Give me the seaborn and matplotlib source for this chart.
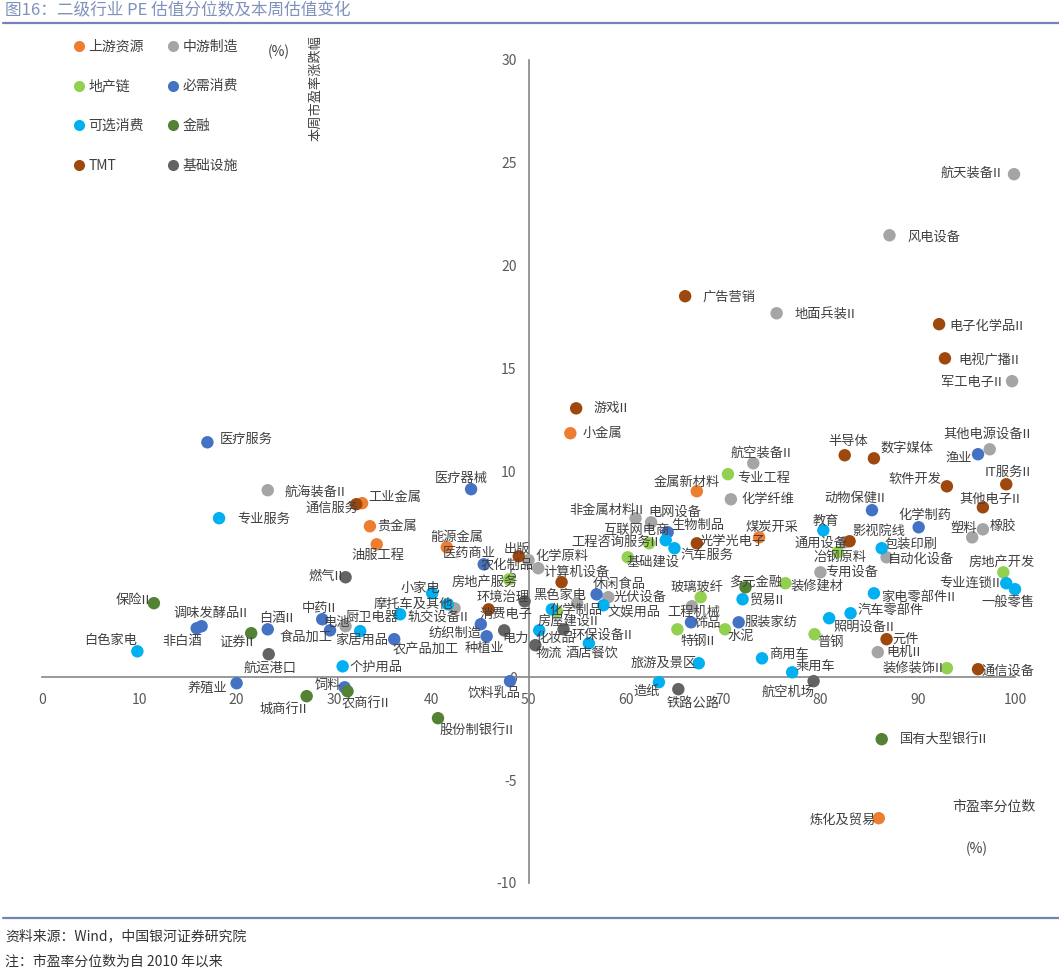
import pandas as pd
import matplotlib.pyplot as plt
import seaborn as sns
from matplotlib.lines import Line2D

# 数据：市盈率分位数 (x, %) 与 本周市盈率涨跌幅 (y, %)
up_names = ["小金属", "金属新材料", "工业金属", "贵金属", "油服工程", "能源金属", "煤炭开采", "炼化及贸易"]
up_pct = [54.3, 67.3, 32.9, 33.7, 34.4, 41.6, 73.7, 86.0]
up_chg = [11.86, 9.04, 8.46, 7.34, 6.46, 6.32, 6.80, -6.85]

mid_names = ["航天装备II", "风电设备", "地面兵装II", "军工电子II", "航空装备II", "其他电源设备II",
             "化学纤维", "航海装备II", "非金属材料II", "电网设备", "塑料", "橡胶", "通用设备",
             "化学原料", "农化制品", "自动化设备", "专用设备", "光伏设备", "化学制品", "工程机械",
             "电池", "轨交设备II", "电机II"]
mid_pct = [99.9, 87.1, 75.5, 99.7, 73.1, 97.4, 70.8, 23.2, 61.0, 62.6, 95.6, 96.7, 82.5,
           51.0, 50.0, 86.8, 80.0, 58.2, 55.0, 66.8, 31.2, 42.4, 85.9]
mid_chg = [24.45, 21.48, 17.69, 14.39, 10.40, 11.08, 8.65, 9.09, 7.73, 7.53, 6.80, 7.19, 6.56,
           5.30, 5.69, 5.83, 5.10, 3.89, 3.60, 3.45, 2.48, 3.35, 1.22]

prop_names = ["专业工程", "工程咨询服务II", "基础建设", "冶钢原料", "房地产开发", "房地产服务",
              "玻璃玻纤", "装修建材", "房屋建设II", "特钢II", "水泥", "普钢", "装修装饰II"]
prop_pct = [70.5, 62.4, 60.2, 81.8, 98.8, 48.0, 67.7, 76.4, 52.9, 65.3, 70.2, 79.4, 93.0]
prop_chg = [9.87, 6.51, 5.83, 6.08, 5.10, 4.76, 3.89, 4.57, 3.21, 2.33, 2.33, 2.09, 0.44]

stap_names = ["医疗服务", "医疗器械", "动物保健II", "化学制药", "渔业", "生物制品", "医药商业",
              "休闲食品", "调味发酵品II", "非白酒", "白酒II", "中药II", "食品加工", "纺织制造",
              "种植业", "农产品加工", "服装家纺", "饰品", "养殖业", "饲料", "饮料乳品"]
stap_pct = [17.0, 44.1, 85.3, 90.1, 96.2, 64.3, 45.4, 57.0, 16.4, 15.9, 23.2, 28.8, 29.6, 45.1,
            45.7, 36.2, 71.6, 66.7, 20.0, 31.1, 48.1]
stap_chg = [11.42, 9.14, 8.12, 7.29, 10.84, 7.05, 5.49, 4.03, 2.48, 2.38, 2.33, 2.82, 2.28, 2.58,
            1.99, 1.85, 2.67, 2.67, -0.29, -0.49, -0.19]

disc_names = ["专业服务", "互联网电商", "汽车服务", "教育", "包装印刷", "专业连锁II", "一般零售",
              "家电零部件II", "小家电", "摩托车及其他", "黑色家电", "文娱用品", "贸易II",
              "汽车零部件", "照明设备II", "厨卫电器", "化妆品", "酒店餐饮", "白色家电", "家居用品",
              "个护用品", "旅游及景区", "商用车", "乘用车", "造纸"]
disc_pct = [18.2, 64.1, 65.0, 80.3, 86.3, 99.1, 100.0, 85.5, 40.1, 41.7, 52.4, 57.7, 72.0,
            83.1, 80.9, 36.8, 51.1, 56.2, 9.8, 32.7, 30.9, 67.5, 74.0, 77.1, 63.4]
disc_chg = [7.73, 6.66, 6.27, 7.14, 6.27, 4.57, 4.28, 4.08, 4.08, 3.55, 3.30, 3.50, 3.79,
            3.11, 2.87, 3.06, 2.28, 1.65, 1.26, 2.24, 0.53, 0.68, 0.92, 0.24, -0.24]

fin_names = ["保险II", "证券II", "多元金融", "城商行II", "农商行II", "股份制银行II", "国有大型银行II"]
fin_pct = [11.5, 21.5, 72.3, 27.2, 31.4, 40.7, 86.3]
fin_chg = [3.60, 2.14, 4.37, -0.92, -0.68, -1.99, -3.01]

tmt_names = ["广告营销", "电子化学品II", "电视广播II", "游戏II", "半导体", "数字媒体", "软件开发",
             "IT服务II", "其他电子II", "通信服务", "光学光电子", "影视院线", "出版", "计算机设备",
             "消费电子", "元件", "通信设备"]
tmt_pct = [66.1, 92.2, 92.8, 54.9, 82.5, 85.5, 93.0, 99.1, 96.7, 32.3, 67.3, 83.0, 49.0, 53.4,
           45.9, 86.8, 96.2]
tmt_chg = [18.52, 17.16, 15.50, 13.07, 10.79, 10.64, 9.28, 9.38, 8.26, 8.41, 6.51, 6.61, 5.88, 4.62,
           3.30, 1.85, 0.39]

infra_names = ["燃气II", "环境治理", "电力", "环保设备II", "物流", "航运港口", "航空机场", "铁路公路"]
infra_pct = [31.2, 49.6, 47.5, 53.6, 50.7, 23.3, 79.3, 65.4]
infra_chg = [4.86, 3.69, 2.28, 2.33, 1.56, 1.12, -0.19, -0.58]

sectors = ["上游资源", "中游制造", "地产链", "必需消费", "可选消费", "金融", "TMT", "基础设施"]
colors = ["#ED7D31", "#A5A5A5", "#92D050", "#4472C4", "#00B0F0", "#548235", "#9E480E", "#636363"]

groups = [(up_names, up_pct, up_chg), (mid_names, mid_pct, mid_chg), (prop_names, prop_pct, prop_chg),
          (stap_names, stap_pct, stap_chg), (disc_names, disc_pct, disc_chg), (fin_names, fin_pct, fin_chg),
          (tmt_names, tmt_pct, tmt_chg), (infra_names, infra_pct, infra_chg)]
frames = []
for sec, (n, p, c) in zip(sectors, groups):
    frames.append(pd.DataFrame({"行业": n, "分位数": p, "涨跌幅": c, "板块": sec}))
df = pd.concat(frames, ignore_index=True)

# 标签位置（像素偏移 dx, dy, 对齐方式），默认在点右侧
label_pos = {
    "航天装备II": (-13, 1, "right"), "风电设备": (18, -2, "left"), "广告营销": (17, -1, "left"),
    "地面兵装II": (18, -1, "left"), "电子化学品II": (10, -2, "left"), "电视广播II": (13, -2, "left"),
    "军工电子II": (-10, -1, "right"), "游戏II": (17, 0, "left"), "小金属": (12, 0, "left"),
    "医疗服务": (12, 3, "left"), "航海装备II": (17, -2, "left"), "通信服务": (2, -4, "right"),
    "工业金属": (6, 6, "left"), "专业服务": (18, -1, "left"), "贵金属": (7, 0, "left"),
    "油服工程": (1, -11, "center"), "能源金属": (10, 10, "center"), "医药商业": (-14, 11, "center"),
    "出版": (-2, 7, "center"), "农化制品": (5, -5, "right"), "化学原料": (-3, 12, "left"),
    "房地产服务": (9, -3, "right"), "燃气II": (-3, 1, "right"), "计算机设备": (15, 10, "center"),
    "小家电": (-12, 5, "center"), "摩托车及其他": (5, 0, "right"), "厨卫电器": (-2, -3, "right"),
    "轨交设备II": (-17, -9, "center"), "环境治理": (-22, 4, "center"), "黑色家电": (8, 14, "center"),
    "消费电子": (17, -5, "center"), "化学制品": (-1, -7, "center"), "房屋建设II": (11, -10, "center"),
    "休闲食品": (-4, 10, "left"), "光伏设备": (5, 0, "left"), "文娱用品": (4, -7, "left"),
    "电池": (4, 4, "right"), "家居用品": (2, -9, "center"), "食品加工": (2, -7, "right"),
    "中药II": (-3, 11, "center"), "白酒II": (8, 11, "center"), "调味发酵品II": (9, 13, "center"),
    "非白酒": (5, -13, "right"), "白色家电": (0, 11, "right"), "保险II": (-4, 3, "right"),
    "证券II": (2, -9, "right"), "航运港口": (1, -14, "center"), "个护用品": (7, -1, "left"),
    "农产品加工": (-2, -11, "left"), "纺织制造": (1, -9, "right"), "种植业": (-2, -12, "center"),
    "电力": (-2, -8, "left"), "化妆品": (-4, -8, "left"), "物流": (0, -8, "left"),
    "酒店餐饮": (3, -10, "center"), "环保设备II": (8, -6, "left"), "养殖业": (-9, -5, "right"),
    "饲料": (-3, 2, "right"), "农商行II": (-6, -13, "left"), "城商行II": (0, -13, "right"),
    "股份制银行II": (2, -12, "left"), "饮料乳品": (-16, -12, "center"), "医疗器械": (-10, 11, "center"),
    "非金属材料II": (8, 8, "right"), "电网设备": (-3, 10, "left"), "互联网电商": (4, 10, "right"),
    "生物制品": (4, 7, "left"), "工程咨询服务II": (9, 1, "right"), "汽车服务": (6, -7, "left"),
    "光学光电子": (3, 2, "left"), "基础建设": (-1, -5, "left"), "玻璃玻纤": (-4, 10, "center"),
    "工程机械": (2, -6, "center"), "饰品": (4, -1, "left"), "特钢II": (3, -12, "left"),
    "水泥": (2, -7, "left"), "服装家纺": (6, 0, "left"), "多元金融": (10, 5, "center"),
    "装修建材": (5, -3, "left"), "贸易II": (7, -1, "left"), "航空装备II": (8, 10, "center"),
    "专业工程": (9, -4, "left"), "金属新材料": (-10, 9, "center"), "化学纤维": (11, 0, "left"),
    "煤炭开采": (13, 10, "center"), "教育": (3, 9, "center"), "通用设备": (3, -1, "right"),
    "影视院线": (3, 10, "left"), "冶钢原料": (2, -5, "center"), "专用设备": (5, 0, "left"),
    "动物保健II": (-17, 12, "center"), "化学制药": (6, 12, "center"), "包装印刷": (3, 4, "left"),
    "自动化设备": (1, -2, "left"), "半导体": (3, 14, "center"), "数字媒体": (7, 10, "left"),
    "其他电源设备II": (-3, 15, "center"), "渔业": (-6, -4, "right"), "软件开发": (-5, 7, "right"),
    "IT服务II": (1, 12, "center"), "其他电子II": (7, 8, "center"), "塑料": (5, 9, "right"),
    "橡胶": (7, 3, "left"), "房地产开发": (-2, 10, "center"), "专业连锁II": (-6, 0, "right"),
    "一般零售": (-7, -13, "center"), "家电零部件II": (7, -4, "left"), "汽车零部件": (7, 3, "left"),
    "照明设备II": (4, -9, "left"), "元件": (6, 0, "left"), "电机II": (9, 0, "left"),
    "装修装饰II": (-4, 0, "right"), "通信设备": (3, -2, "left"), "普钢": (3, -8, "left"),
    "商用车": (7, 4, "left"), "乘用车": (3, 6, "left"), "航空机场": (1, -11, "right"),
    "旅游及景区": (-2, 0, "right"), "造纸": (1, -9, "right"), "铁路公路": (15, -14, "center"),
    "国有大型银行II": (18, -1, "left"), "炼化及贸易": (-3, -2, "right"),
}

sns.set_style("white")
plt.rcParams['font.family'] = ['Noto Sans CJK SC', 'DejaVu Sans']
plt.rcParams['axes.unicode_minus'] = False

fig = plt.figure(figsize=(10.59, 9.73), dpi=100)
ax = fig.add_axes([42 / 1059, 90 / 973, 973 / 1059, 823 / 973])

palette = dict(zip(sectors, colors))
sns.scatterplot(data=df, x="分位数", y="涨跌幅", hue="板块", palette=palette,
                s=80, edgecolor="none", legend=False, ax=ax, zorder=3)
for coll in ax.collections:
    coll.set_clip_on(False)

txt_color = "#404040"
for _, r in df.iterrows():
    dx, dy, ha = label_pos.get(r["行业"], (8, 0, "left"))
    ax.annotate(r["行业"], (r["分位数"], r["涨跌幅"]), xytext=(dx, dy), textcoords="offset pixels",
                ha=ha, va="center", fontsize=9.5, color=txt_color, zorder=4)

ax.set_xlim(0, 100)
ax.set_ylim(-10, 30)
ax.set_xticks(range(0, 101, 10))
ax.set_yticks(range(-10, 31, 5))
ax.spines["left"].set_position(("data", 50))
ax.spines["bottom"].set_position(("data", 0))
for s in ["top", "right"]:
    ax.spines[s].set_visible(False)
for s in ["left", "bottom"]:
    ax.spines[s].set_color("#868686")
    ax.spines[s].set_linewidth(1.2)
ax.tick_params(axis="both", direction="out", length=5, color="#868686", labelcolor="#595959",
               labelsize=10)
ax.tick_params(axis="x", pad=6)
ax.set_xlabel("")
ax.set_ylabel("")

# 图例
handles = [Line2D([], [], marker="o", linestyle="", markersize=8, markerfacecolor=c,
                  markeredgecolor="none", label=s) for s, c in zip(sectors, colors)]
order = [0, 2, 4, 6, 1, 3, 5, 7]
fig.legend([handles[i] for i in order], [sectors[i] for i in order], ncol=2,
           loc="upper left", bbox_to_anchor=(0.056, 0.972), frameon=False, fontsize=10,
           labelspacing=1.85, columnspacing=1.6, handletextpad=0.2, handlelength=1.0,
           labelcolor=txt_color)

# 轴标注
fig.text(279 / 1059, 1 - 52 / 973, "(%)", ha="center", va="center", fontsize=10, color=txt_color)
fig.text(316 / 1059, 1 - 88 / 973, "本周市盈率涨跌幅", ha="center", va="center", rotation=90,
         fontsize=9.5, color=txt_color)
fig.text(994 / 1059, 1 - 807 / 973, "市盈率分位数", ha="center", va="center", fontsize=10,
         color=txt_color)
fig.text(977 / 1059, 1 - 849 / 973, "(%)", ha="center", va="center", fontsize=10, color=txt_color)

# 标题与脚注
fig.text(5 / 1059, 1 - 11 / 973, "图16：二级行业 PE 估值分位数及本周估值变化", ha="left", va="center",
         fontsize=12, color="#7F91BC")
fig.add_artist(Line2D([0.003, 1.0], [1 - 23 / 973] * 2, color="#7184B8", lw=1.6))
fig.add_artist(Line2D([0.003, 1.0], [1 - 918 / 973] * 2, color="#7184B8", lw=1.6))
fig.text(5 / 1059, 1 - 936 / 973, "资料来源：Wind，中国银河证券研究院", ha="left", va="center",
         fontsize=10, color="#333333", style="italic")
fig.text(5 / 1059, 1 - 962 / 973, "注：市盈率分位数为自 2010 年以来", ha="left", va="center",
         fontsize=10, color="#333333", style="italic")

plt.savefig("out.png", dpi=100)
